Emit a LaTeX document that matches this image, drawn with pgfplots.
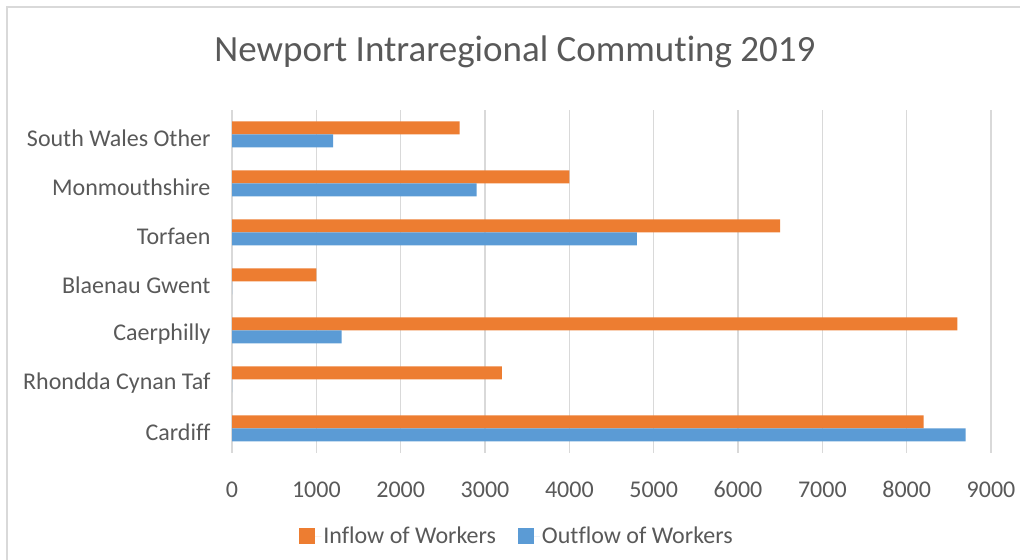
\documentclass[border=0pt]{standalone}
\usepackage{fontspec}
\setmainfont{Carlito}[Ligatures={NoCommon,NoRare,NoContextual}]
\usepackage{pgfplots}
\pgfplotsset{compat=1.18}
\definecolor{inflow}{HTML}{ED7D31}
\definecolor{outflow}{HTML}{5B9BD5}
\definecolor{gridgray}{HTML}{D9D9D9}
\definecolor{txtgray}{HTML}{595959}
\begin{document}
\begin{tikzpicture}[x=1bp,y=1bp]
\useasboundingbox (0,0) rectangle (1020,560);
\draw[gridgray, line width=1.5bp] (7,0) -- (7,553) -- (1020,553);
\node[anchor=base, text=txtgray, font=\fontsize{37bp}{40bp}\selectfont] at (515,498) {Newport Intraregional Commuting 2019};
\begin{axis}[
  at={(232bp,107bp)}, anchor=south west,
  width=759bp, height=343bp, scale only axis,
  xbar, bar width=13bp,
  xmin=0, xmax=9000, ymin=-0.5, ymax=6.5,
  xtick={0,1000,...,9000},
  ytick={0,...,6},
  yticklabels={Cardiff,Rhondda Cynan Taf,Caerphilly,Blaenau Gwent,Torfaen,Monmouthshire,South Wales Other},
  scaled x ticks=false,
  /pgf/number format/1000 sep={},
  /pgf/number format/assume math mode=true,
  ticklabel style={text=txtgray, font=\fontsize{24bp}{26bp}\selectfont},
  xticklabel style={yshift=-25bp},
  yticklabel style={xshift=-18bp, yshift=-4bp},
  axis line style={draw=none},
  major tick length=0pt,
  xmajorgrids, major grid style={gridgray, line width=1.5bp},
  legend columns=2,
  legend style={at={(0.3755,-0.242)}, anchor=center, draw=none, fill=none,
    font=\fontsize{24bp}{26bp}\selectfont, text=txtgray,
    /tikz/every even column/.append style={column sep=20bp}},
  legend image code/.code={\path (0bp,0bp) -- (22bp,0bp);\fill[#1] (0bp,-8bp) rectangle (16bp,8bp);},
]
\addplot[fill=inflow, draw=none, bar shift=6.5bp] coordinates {
  (8200,0) (3200,1) (8600,2) (1000,3) (6500,4) (4000,5) (2700,6)};
\addlegendentry{Inflow of Workers}
\addplot[fill=outflow, draw=none, bar shift=-6.5bp] coordinates {
  (8700,0) (0,1) (1300,2) (0,3) (4800,4) (2900,5) (1200,6)};
\addlegendentry{Outflow of Workers}
\end{axis}
\end{tikzpicture}
\end{document}
